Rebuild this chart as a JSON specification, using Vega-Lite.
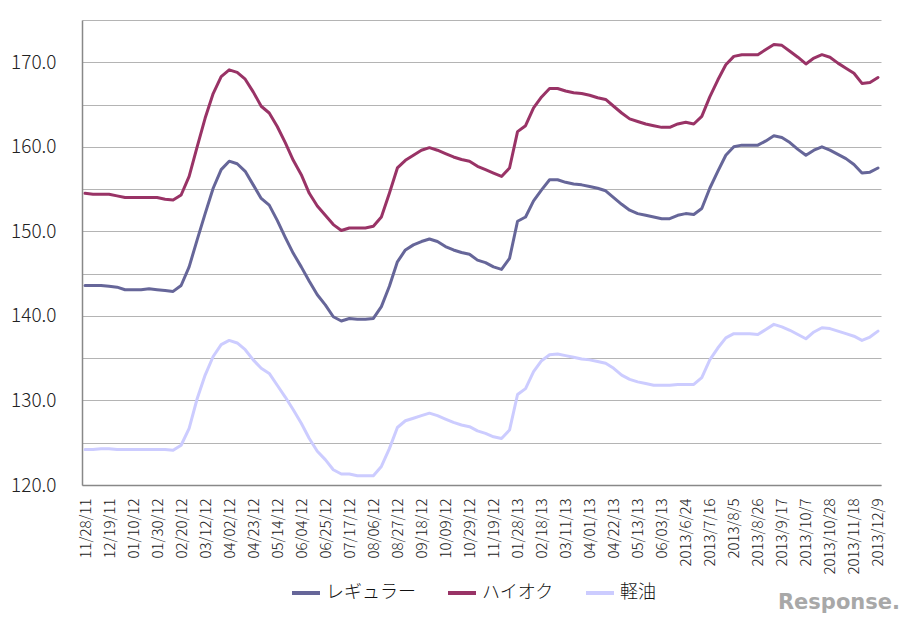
{
  "$schema": "https://vega.github.io/schema/vega-lite/v6.json",
  "autosize": {"type": "none"},
  "width": 799,
  "height": 465,
  "padding": {"left": 82, "top": 20, "right": 29, "bottom": 137},
  "background": "white",
  "title": {
    "text": "Response.",
    "orient": "bottom",
    "anchor": "end",
    "font": "DejaVu Sans",
    "fontSize": 21,
    "fontWeight": "bold",
    "color": "#a8a8a8",
    "offset": -10,
    "dx": 14
  },
  "config": {
    "view": {"stroke": null},
    "font": "Noto Sans CJK JP"
  },
  "data": {
    "values": [
      {"d":"11/28/11","レギュラー":143.6,"ハイオク":154.5,"軽油":124.2},
      {"d":"12/05/11","レギュラー":143.6,"ハイオク":154.4,"軽油":124.2},
      {"d":"12/12/11","レギュラー":143.6,"ハイオク":154.4,"軽油":124.3},
      {"d":"12/19/11","レギュラー":143.5,"ハイオク":154.4,"軽油":124.3},
      {"d":"12/26/11","レギュラー":143.4,"ハイオク":154.2,"軽油":124.2},
      {"d":"01/04/12","レギュラー":143.1,"ハイオク":154.0,"軽油":124.2},
      {"d":"01/10/12","レギュラー":143.1,"ハイオク":154.0,"軽油":124.2},
      {"d":"01/16/12","レギュラー":143.1,"ハイオク":154.0,"軽油":124.2},
      {"d":"01/23/12","レギュラー":143.2,"ハイオク":154.0,"軽油":124.2},
      {"d":"01/30/12","レギュラー":143.1,"ハイオク":154.0,"軽油":124.2},
      {"d":"02/06/12","レギュラー":143.0,"ハイオク":153.8,"軽油":124.2},
      {"d":"02/13/12","レギュラー":142.9,"ハイオク":153.7,"軽油":124.1},
      {"d":"02/20/12","レギュラー":143.6,"ハイオク":154.3,"軽油":124.7},
      {"d":"02/27/12","レギュラー":145.8,"ハイオク":156.5,"軽油":126.7},
      {"d":"03/05/12","レギュラー":149.0,"ハイオク":160.0,"軽油":130.2},
      {"d":"03/12/12","レギュラー":152.1,"ハイオク":163.4,"軽油":133.0},
      {"d":"03/19/12","レギュラー":155.1,"ハイオク":166.3,"軽油":135.2},
      {"d":"03/26/12","レギュラー":157.3,"ハイオク":168.3,"軽油":136.6},
      {"d":"04/02/12","レギュラー":158.3,"ハイオク":169.1,"軽油":137.1},
      {"d":"04/09/12","レギュラー":158.0,"ハイオク":168.8,"軽油":136.8},
      {"d":"04/16/12","レギュラー":157.1,"ハイオク":168.0,"軽油":136.0},
      {"d":"04/23/12","レギュラー":155.5,"ハイオク":166.5,"軽油":134.8},
      {"d":"05/01/12","レギュラー":153.9,"ハイオク":164.8,"軽油":133.8},
      {"d":"05/07/12","レギュラー":153.1,"ハイオク":164.0,"軽油":133.2},
      {"d":"05/14/12","レギュラー":151.3,"ハイオク":162.4,"軽油":131.8},
      {"d":"05/21/12","レギュラー":149.3,"ハイオク":160.5,"軽油":130.4},
      {"d":"05/28/12","レギュラー":147.4,"ハイオク":158.4,"軽油":128.9},
      {"d":"06/04/12","レギュラー":145.8,"ハイオク":156.7,"軽油":127.3},
      {"d":"06/11/12","レギュラー":144.1,"ハイオク":154.5,"軽油":125.5},
      {"d":"06/18/12","レギュラー":142.5,"ハイオク":153.0,"軽油":124.0},
      {"d":"06/25/12","レギュラー":141.3,"ハイオク":151.9,"軽油":123.0},
      {"d":"07/02/12","レギュラー":139.9,"ハイオク":150.8,"軽油":121.8},
      {"d":"07/09/12","レギュラー":139.4,"ハイオク":150.1,"軽油":121.3},
      {"d":"07/17/12","レギュラー":139.7,"ハイオク":150.4,"軽油":121.3},
      {"d":"07/23/12","レギュラー":139.6,"ハイオク":150.4,"軽油":121.1},
      {"d":"07/30/12","レギュラー":139.6,"ハイオク":150.4,"軽油":121.1},
      {"d":"08/06/12","レギュラー":139.7,"ハイオク":150.6,"軽油":121.1},
      {"d":"08/13/12","レギュラー":141.1,"ハイオク":151.7,"軽油":122.2},
      {"d":"08/20/12","レギュラー":143.5,"ハイオク":154.5,"軽油":124.3},
      {"d":"08/27/12","レギュラー":146.4,"ハイオク":157.5,"軽油":126.8},
      {"d":"09/03/12","レギュラー":147.8,"ハイオク":158.4,"軽油":127.6},
      {"d":"09/10/12","レギュラー":148.4,"ハイオク":159.0,"軽油":127.9},
      {"d":"09/18/12","レギュラー":148.8,"ハイオク":159.6,"軽油":128.2},
      {"d":"09/24/12","レギュラー":149.1,"ハイオク":159.9,"軽油":128.5},
      {"d":"10/01/12","レギュラー":148.8,"ハイオク":159.6,"軽油":128.2},
      {"d":"10/09/12","レギュラー":148.2,"ハイオク":159.2,"軽油":127.8},
      {"d":"10/15/12","レギュラー":147.8,"ハイオク":158.8,"軽油":127.4},
      {"d":"10/22/12","レギュラー":147.5,"ハイオク":158.5,"軽油":127.1},
      {"d":"10/29/12","レギュラー":147.3,"ハイオク":158.3,"軽油":126.9},
      {"d":"11/05/12","レギュラー":146.6,"ハイオク":157.7,"軽油":126.4},
      {"d":"11/12/12","レギュラー":146.3,"ハイオク":157.3,"軽油":126.1},
      {"d":"11/19/12","レギュラー":145.8,"ハイオク":156.9,"軽油":125.7},
      {"d":"12/17/12","レギュラー":145.5,"ハイオク":156.5,"軽油":125.5},
      {"d":"01/15/13","レギュラー":146.8,"ハイオク":157.5,"軽油":126.5},
      {"d":"01/28/13","レギュラー":151.2,"ハイオク":161.8,"軽油":130.7},
      {"d":"02/04/13","レギュラー":151.7,"ハイオク":162.5,"軽油":131.4},
      {"d":"02/12/13","レギュラー":153.6,"ハイオク":164.6,"軽油":133.4},
      {"d":"02/18/13","レギュラー":154.9,"ハイオク":165.9,"軽油":134.7},
      {"d":"02/25/13","レギュラー":156.1,"ハイオク":166.9,"軽油":135.4},
      {"d":"03/04/13","レギュラー":156.1,"ハイオク":166.9,"軽油":135.5},
      {"d":"03/11/13","レギュラー":155.8,"ハイオク":166.6,"軽油":135.3},
      {"d":"03/18/13","レギュラー":155.6,"ハイオク":166.4,"軽油":135.1},
      {"d":"03/25/13","レギュラー":155.5,"ハイオク":166.3,"軽油":134.9},
      {"d":"04/01/13","レギュラー":155.3,"ハイオク":166.1,"軽油":134.8},
      {"d":"04/08/13","レギュラー":155.1,"ハイオク":165.8,"軽油":134.6},
      {"d":"04/15/13","レギュラー":154.8,"ハイオク":165.6,"軽油":134.4},
      {"d":"04/22/13","レギュラー":154.0,"ハイオク":164.8,"軽油":133.8},
      {"d":"04/30/13","レギュラー":153.2,"ハイオク":164.0,"軽油":133.0},
      {"d":"05/07/13","レギュラー":152.5,"ハイオク":163.3,"軽油":132.5},
      {"d":"05/13/13","レギュラー":152.1,"ハイオク":163.0,"軽油":132.2},
      {"d":"05/20/13","レギュラー":151.9,"ハイオク":162.7,"軽油":132.0},
      {"d":"05/27/13","レギュラー":151.7,"ハイオク":162.5,"軽油":131.8},
      {"d":"06/03/13","レギュラー":151.5,"ハイオク":162.3,"軽油":131.8},
      {"d":"06/10/13","レギュラー":151.5,"ハイオク":162.3,"軽油":131.8},
      {"d":"06/17/13","レギュラー":151.9,"ハイオク":162.7,"軽油":131.9},
      {"d":"2013/6/24","レギュラー":152.1,"ハイオク":162.9,"軽油":131.9},
      {"d":"2013/7/1","レギュラー":152.0,"ハイオク":162.7,"軽油":131.9},
      {"d":"2013/7/8","レギュラー":152.7,"ハイオク":163.6,"軽油":132.7},
      {"d":"2013/7/16","レギュラー":155.1,"ハイオク":165.9,"軽油":134.8},
      {"d":"2013/7/22","レギュラー":157.1,"ハイオク":167.9,"軽油":136.2},
      {"d":"2013/7/29","レギュラー":159.0,"ハイオク":169.7,"軽油":137.4},
      {"d":"2013/8/5","レギュラー":160.0,"ハイオク":170.7,"軽油":137.9},
      {"d":"2013/8/12","レギュラー":160.2,"ハイオク":170.9,"軽油":137.9},
      {"d":"2013/8/19","レギュラー":160.2,"ハイオク":170.9,"軽油":137.9},
      {"d":"2013/8/26","レギュラー":160.2,"ハイオク":170.9,"軽油":137.8},
      {"d":"2013/9/2","レギュラー":160.7,"ハイオク":171.5,"軽油":138.4},
      {"d":"2013/9/9","レギュラー":161.3,"ハイオク":172.1,"軽油":139.0},
      {"d":"2013/9/17","レギュラー":161.1,"ハイオク":172.0,"軽油":138.7},
      {"d":"2013/9/24","レギュラー":160.5,"ハイオク":171.3,"軽油":138.3},
      {"d":"2013/9/30","レギュラー":159.7,"ハイオク":170.6,"軽油":137.8},
      {"d":"2013/10/7","レギュラー":159.0,"ハイオク":169.8,"軽油":137.3},
      {"d":"2013/10/15","レギュラー":159.6,"ハイオク":170.5,"軽油":138.1},
      {"d":"2013/10/21","レギュラー":160.0,"ハイオク":170.9,"軽油":138.6},
      {"d":"2013/10/28","レギュラー":159.6,"ハイオク":170.6,"軽油":138.5},
      {"d":"2013/11/5","レギュラー":159.1,"ハイオク":169.9,"軽油":138.2},
      {"d":"2013/11/11","レギュラー":158.6,"ハイオク":169.3,"軽油":137.9},
      {"d":"2013/11/18","レギュラー":157.9,"ハイオク":168.7,"軽油":137.6},
      {"d":"2013/11/25","レギュラー":156.9,"ハイオク":167.5,"軽油":137.1},
      {"d":"2013/12/2","レギュラー":157.0,"ハイオク":167.6,"軽油":137.5},
      {"d":"2013/12/9","レギュラー":157.5,"ハイオク":168.2,"軽油":138.2}
    ]
  },
  "transform": [
    {"fold": ["レギュラー", "ハイオク", "軽油"], "as": ["series", "value"]}
  ],
  "mark": {"type": "line", "strokeWidth": 3, "strokeJoin": "round", "strokeCap": "round"},
  "encoding": {
    "x": {
      "field": "d",
      "type": "ordinal",
      "sort": null,
      "scale": {"type": "point", "padding": 0.375},
      "axis": {
        "title": null,
        "values": ["11/28/11","12/19/11","01/10/12","01/30/12","02/20/12","03/12/12","04/02/12","04/23/12","05/14/12","06/04/12","06/25/12","07/17/12","08/06/12","08/27/12","09/18/12","10/09/12","10/29/12","11/19/12","01/28/13","02/18/13","03/11/13","04/01/13","04/22/13","05/13/13","06/03/13","2013/6/24","2013/7/16","2013/8/5","2013/8/26","2013/9/17","2013/10/7","2013/10/28","2013/11/18","2013/12/9"],
        "labelAngle": -90,
        "labelAlign": "right",
        "labelBaseline": "middle",
        "labelFontSize": 15,
        "labelFontWeight": 300,
        "labelColor": "#222222",
        "labelPadding": 13,
        "ticks": false,
        "grid": false,
        "domainColor": "#888888",
        "domainWidth": 1.5,
        "labelOverlap": false
      }
    },
    "y": {
      "field": "value",
      "type": "quantitative",
      "scale": {"domain": [120, 175], "nice": false, "zero": false},
      "axis": {
        "title": null,
        "values": [120,125,130,135,140,145,150,155,160,165,170,175],
        "labelExpr": "datum.value % 10 == 0 && datum.value < 175 ? format(datum.value, '.1f') : ''",
        "labelFontSize": 19,
        "labelFontWeight": 300,
        "labelColor": "#222222",
        "labelPadding": 26,
        "ticks": false,
        "gridColor": "#b4b4b4",
        "gridWidth": 1,
        "domainColor": "#888888",
        "domainWidth": 1.5,
        "labelOverlap": false
      }
    },
    "color": {
      "field": "series",
      "type": "nominal",
      "scale": {
        "domain": ["レギュラー", "ハイオク", "軽油"],
        "range": ["#666699", "#993366", "#ccccff"]
      },
      "legend": {
        "title": null,
        "orient": "none",
        "direction": "horizontal",
        "legendX": 208,
        "legendY": 557,
        "symbolType": "stroke",
        "symbolSize": 784,
        "symbolStrokeWidth": 4,
        "labelFontSize": 18,
        "labelFontWeight": 300,
        "labelColor": "#111111",
        "labelOffset": 4,
        "columnPadding": 24,
        "padding": 0
      }
    }
  }
}
